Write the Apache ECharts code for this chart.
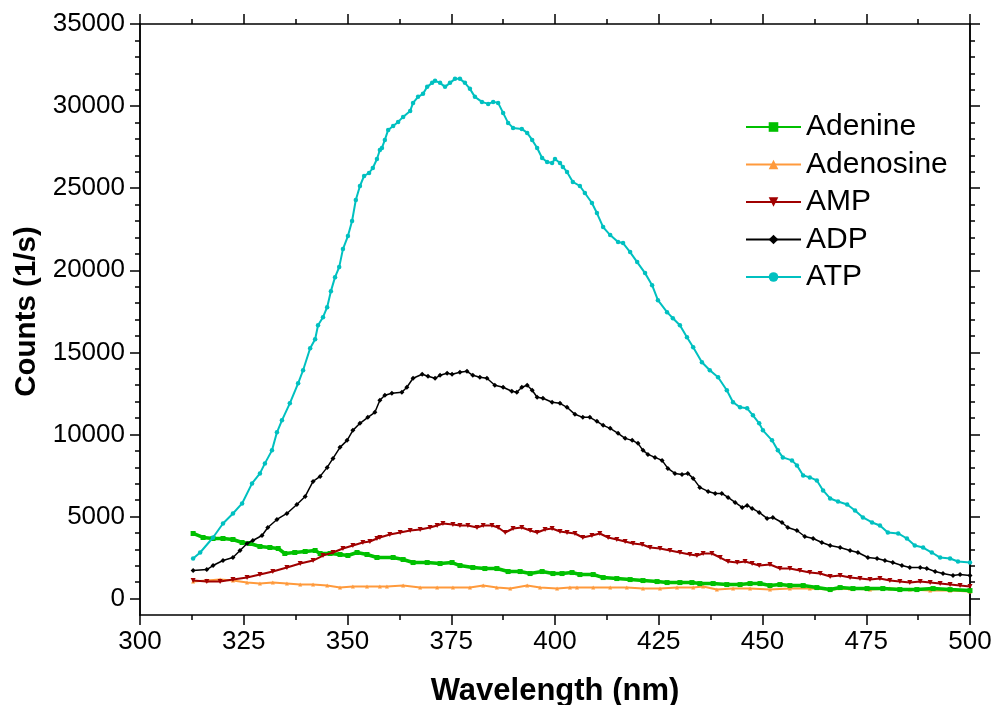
<!DOCTYPE html>
<html>
<head>
<meta charset="utf-8">
<script src="https://cdn.jsdelivr.net/npm/echarts@6/dist/echarts.min.js"></script>
<style>html,body{margin:0;padding:0;background:#fff}#c{width:995px;height:705px}</style>
</head>
<body>
<div id="c"></div>
<script>
var seriesNames = ['Adenine', 'Adenosine', 'AMP', 'ADP', 'ATP'];
var xTickLabels = [300, 325, 350, 375, 400, 425, 450, 475, 500];
var yTickLabels = [0, 5000, 10000, 15000, 20000, 25000, 30000, 35000];

var adenine = [[312.8,3965],[315.2,3721],[317.6,3660],[320.0,3660],[322.4,3599],[324.6,3416],[326.5,3355],[328.9,3172],[331.3,3111],[333.3,3050],[334.9,2745],[337.3,2806],[339.8,2867],[342.2,2928],[343.4,2745],[345.8,2745],[348.2,2684],[350.1,2623],[352.3,2806],[354.7,2684],[357.1,2501],[361.0,2501],[363.4,2379],[365.8,2196],[369.2,2196],[372.3,2135],[375.2,2196],[377.1,2013],[380.2,1891],[383.1,1830],[386.0,1830],[388.7,1647],[391.6,1647],[394.0,1525],[396.9,1647],[399.5,1525],[401.7,1525],[404.1,1586],[406.0,1464],[409.2,1464],[411.6,1281],[414.9,1220],[418.1,1159],[421.2,1098],[424.6,1037],[427.0,976],[430.1,976],[433.0,976],[434.9,915],[438.1,915],[441.4,854],[444.6,854],[447.0,915],[449.4,915],[451.8,793],[454.2,854],[456.6,793],[459.8,793],[463.1,671],[466.3,549],[468.7,671],[471.8,610],[475.2,610],[479.0,610],[483.1,549],[487.2,549],[491.1,610],[495.2,549],[500.0,488]];

var adenosine = [[312.8,1037],[316.1,1098],[319.3,1159],[322.4,1098],[325.8,976],[328.9,915],[332.0,976],[335.4,915],[338.6,854],[341.7,854],[345.1,793],[348.2,671],[351.3,732],[354.7,732],[357.8,732],[359.5,732],[363.4,793],[367.5,671],[371.6,671],[375.4,671],[379.5,671],[382.7,793],[386.0,671],[389.2,610],[393.3,793],[396.4,671],[400.5,610],[403.6,671],[405.3,671],[409.2,671],[413.3,671],[417.3,671],[421.2,610],[425.3,610],[429.4,671],[433.3,671],[435.7,732],[439.0,549],[442.9,610],[447.0,610],[451.8,549],[456.6,610],[461.4,610],[466.3,549],[471.1,610],[475.9,549],[480.7,610],[485.5,549],[490.4,488],[495.2,488],[500.0,427]];

var amp = [[312.8,1098],[316.1,1037],[319.3,1037],[322.4,1159],[325.8,1281],[328.9,1464],[332.0,1647],[335.4,1891],[338.6,2135],[341.7,2318],[344.1,2623],[346.5,2806],[348.9,3050],[351.3,3233],[353.7,3416],[355.4,3477],[357.1,3660],[357.8,3721],[360.2,3904],[362.7,4026],[365.1,4148],[367.5,4209],[369.9,4331],[371.6,4453],[373.0,4575],[375.4,4514],[377.1,4453],[379.0,4453],[381.2,4331],[382.7,4453],[384.8,4453],[386.3,4331],[388.0,4026],[389.9,4270],[392.0,4331],[394.0,4148],[395.7,4026],[397.6,4209],[399.3,4270],[401.2,4087],[402.9,4026],[404.8,3965],[406.7,3721],[408.9,3843],[410.8,3965],[412.8,3721],[414.9,3599],[416.9,3477],[418.8,3355],[421.0,3294],[422.9,3111],[425.3,3050],[427.7,2928],[430.1,2806],[432.5,2684],[434.2,2623],[435.7,2745],[437.8,2745],[439.8,2501],[441.7,2257],[443.9,2196],[445.8,2257],[447.5,2135],[449.2,2013],[451.8,2074],[454.2,1830],[456.6,1830],[459.0,1708],[461.4,1586],[463.9,1525],[466.3,1342],[468.7,1403],[471.1,1281],[473.5,1220],[475.9,1159],[478.3,1220],[480.7,1098],[483.1,1037],[485.5,976],[488.0,1037],[490.4,976],[492.8,915],[495.2,854],[497.6,793],[500.0,732]];

var adp = [[312.8,1708],[316.1,1769],[317.6,2013],[320.0,2318],[322.4,2501],[324.1,2928],[325.8,3355],[327.2,3538],[329.4,3843],[330.8,4331],[333.0,4819],[335.4,5185],[337.8,5734],[339.8,6222],[341.7,7137],[343.4,7442],[345.1,7991],[346.5,8540],[348.2,9211],[349.9,9638],[351.3,10248],[353.0,10675],[354.9,11041],[356.6,11346],[357.8,12078],[359.0,12383],[360.7,12505],[363.1,12566],[364.3,12871],[365.8,13420],[368.0,13664],[369.4,13542],[371.1,13420],[372.3,13603],[374.0,13725],[375.2,13664],[377.1,13786],[378.8,13847],[380.2,13603],[381.9,13481],[383.6,13420],[385.5,12993],[387.5,12871],[389.6,12627],[390.8,12566],[392.0,12871],[393.3,12993],[394.5,12688],[395.7,12261],[397.1,12200],[399.3,11956],[401.2,11895],[402.9,11651],[404.8,11224],[406.7,11041],[408.4,11041],[410.1,10797],[411.6,10553],[413.3,10370],[415.2,10065],[416.9,9760],[418.6,9638],[420.0,9455],[421.2,9028],[422.4,8784],[424.1,8601],[425.8,8418],[427.2,7930],[428.9,7625],[430.6,7564],[432.0,7625],[433.3,7320],[434.9,6771],[436.9,6527],[438.6,6405],[440.2,6405],[441.7,6161],[443.4,5856],[445.1,5551],[446.3,5673],[447.5,5490],[449.2,5246],[451.1,4880],[452.5,4941],[454.7,4636],[456.1,4331],[458.3,4148],[460.2,3782],[462.2,3660],[464.3,3416],[466.3,3233],[468.7,3111],[471.1,2928],[473.0,2806],[475.4,2501],[477.6,2440],[479.5,2318],[481.4,2196],[483.6,2013],[485.5,1891],[488.0,1891],[489.6,1830],[491.6,1647],[493.5,1525],[495.9,1403],[497.6,1464],[500.0,1403]];

var atp = [[312.8,2440],[314.5,2806],[317.6,3721],[320.0,4575],[322.4,5185],[324.6,5795],[327.0,7015],[328.9,7625],[330.1,8235],[331.8,9028],[333.0,10126],[334.2,10858],[336.1,11895],[338.1,13115],[339.3,13908],[341.0,15250],[342.2,15799],[342.9,16653],[344.1,17141],[345.1,17751],[346.0,18727],[347.0,19581],[348.0,20191],[348.9,21289],[350.1,22082],[351.1,22997],[352.0,24278],[353.0,25132],[354.0,25742],[355.2,25925],[356.1,26230],[357.1,26779],[357.8,27328],[358.3,27450],[359.0,27938],[359.8,28548],[361.0,28792],[362.2,29036],[363.4,29341],[365.1,29707],[365.8,30195],[367.0,30561],[368.2,30744],[369.2,31171],[370.4,31415],[371.1,31537],[372.3,31415],[373.5,31171],[374.7,31415],[375.9,31659],[377.1,31659],[378.3,31415],[379.5,31049],[380.7,30561],[382.4,30256],[383.9,30134],[385.1,30256],[386.3,30195],[387.5,29585],[388.7,28975],[389.9,28670],[392.0,28609],[393.3,28365],[394.5,27938],[395.7,27450],[396.9,26840],[398.1,26596],[399.3,26535],[400.0,26779],[401.2,26535],[401.9,26291],[402.9,25986],[404.3,25376],[406.0,25132],[407.2,24705],[408.9,24095],[410.1,23485],[411.6,22631],[413.3,22143],[415.2,21716],[416.4,21655],[418.1,21106],[419.8,20496],[421.7,19825],[423.4,19093],[424.8,18178],[427.0,17446],[428.4,17080],[430.1,16653],[431.8,15921],[433.3,15311],[435.4,14396],[437.3,13908],[439.3,13481],[441.4,12688],[442.9,11956],[444.6,11651],[446.3,11590],[447.7,11163],[449.2,10675],[450.1,10248],[452.3,9638],[453.7,9028],[454.9,8601],[457.1,8418],[458.3,8113],[459.8,7503],[461.4,7381],[463.1,7198],[464.6,6588],[466.3,6100],[468.2,5917],[470.4,5734],[472.3,5368],[474.2,4941],[476.4,4636],[478.3,4453],[480.2,4026],[482.7,3965],[484.8,3660],[486.7,3233],[488.7,3111],[490.8,2806],[492.8,2501],[495.2,2440],[497.1,2257],[500.0,2196]];

var FONT = "'Liberation Sans', Arial, Helvetica, sans-serif";
var yMinor = [];
for (var v = 1000; v < 35000; v += 1000) { if (v % 5000 !== 0) yMinor.push(v); }

var axisLineStyle = { show: true, onZero: false, lineStyle: { color: '#000', width: 1.5 } };

function yAx(pos, major, showLabel) {
  return {
    type: 'value', position: pos, min: -1000, max: 35000,
    axisLine: axisLineStyle,
    axisTick: { show: true, inside: false, length: major ? 10 : 5, lineStyle: { color: '#000', width: 1.5 },
      customValues: major ? yTickLabels : yMinor },
    axisLabel: { show: showLabel, customValues: yTickLabels, fontSize: 26, color: '#000', fontFamily: FONT, margin: 15,
      formatter: function (val) { return String(val); } },
    splitLine: { show: false }
  };
}

var option = {
  animation: false,
  backgroundColor: '#fff',
  grid: { left: 140, right: 25, top: 24, bottom: 90, containLabel: false, outerBoundsMode: 'none' },
  legend: {
    show: true, orient: 'vertical', left: 740, top: 107,
    itemWidth: 55, itemHeight: 12, itemGap: 7.5,
    data: seriesNames,
    textStyle: { fontSize: 30, color: '#000', fontFamily: FONT, lineHeight: 30 }
  },
  xAxis: [
    {
      type: 'value', position: 'bottom', min: 300, max: 500, interval: 25,
      axisLine: axisLineStyle,
      axisTick: { show: true, inside: false, length: 10, lineStyle: { color: '#000', width: 1.5 } },
      minorTick: { show: true, splitNumber: 2, length: 5, lineStyle: { color: '#000', width: 1.5 } },
      axisLabel: { fontSize: 26, color: '#000', fontFamily: FONT, margin: 14 },
      splitLine: { show: false },
      name: 'Wavelength (nm)', nameLocation: 'middle', nameGap: 61,
      nameTextStyle: { fontSize: 31, fontWeight: 'bold', color: '#000', fontFamily: FONT }
    },
    {
      type: 'value', position: 'top', min: 300, max: 500, interval: 25,
      axisLine: axisLineStyle,
      axisTick: { show: true, inside: false, length: 10, lineStyle: { color: '#000', width: 1.5 } },
      minorTick: { show: true, splitNumber: 2, length: 5, lineStyle: { color: '#000', width: 1.5 } },
      axisLabel: { show: false },
      splitLine: { show: false }
    }
  ],
  yAxis: [
    Object.assign(yAx('left', true, true), {
      name: 'Counts (1/s)', nameLocation: 'middle', nameGap: 98, nameRotate: 90,
      nameTextStyle: { fontSize: 29.5, fontWeight: 'bold', color: '#000', fontFamily: FONT, padding: [0, 0, 0, 16] }
    }),
    yAx('left', false, false),
    yAx('right', true, false),
    yAx('right', false, false)
  ],
  series: [
    { name: 'Adenine', type: 'line', data: adenine, symbol: 'rect', symbolSize: 5, showAllSymbol: true,
      lineStyle: { color: '#00c000', width: 3.5 }, itemStyle: { color: '#00c000' }, z: 3 },
    { name: 'Adenosine', type: 'line', data: adenosine, symbol: 'triangle', symbolSize: 4, showAllSymbol: true,
      lineStyle: { color: '#ff9a3c', width: 2 }, itemStyle: { color: '#ff9a3c' }, z: 2 },
    { name: 'AMP', type: 'line', data: amp, symbol: 'triangle', symbolRotate: 180, symbolSize: 5, showAllSymbol: true,
      lineStyle: { color: '#a00000', width: 2 }, itemStyle: { color: '#a00000' }, z: 4 },
    { name: 'ADP', type: 'line', data: adp, symbol: 'diamond', symbolSize: 5, showAllSymbol: true,
      lineStyle: { color: '#000000', width: 1.5 }, itemStyle: { color: '#000000' }, z: 5 },
    { name: 'ATP', type: 'line', data: atp, symbol: 'circle', symbolSize: 4.5, showAllSymbol: true,
      lineStyle: { color: '#00c0c0', width: 2 }, itemStyle: { color: '#00c0c0' }, z: 6 }
  ]
};

var chart = echarts.init(document.getElementById('c'), null, { renderer: 'canvas' });
chart.setOption(option);
</script>
</body>
</html>
